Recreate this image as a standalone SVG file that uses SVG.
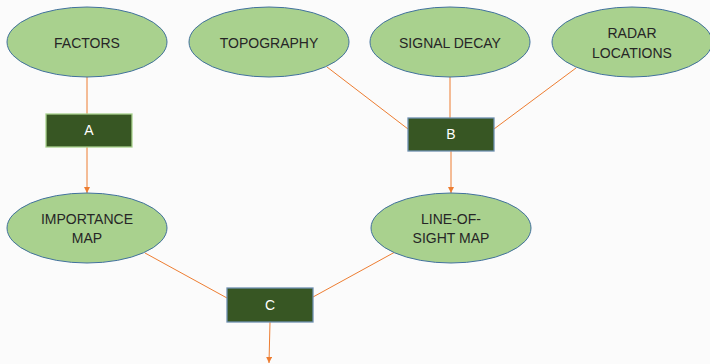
<svg xmlns="http://www.w3.org/2000/svg" width="710" height="364" viewBox="0 0 710 364">
<defs>
<style>
.ell{fill:#a9d18e;stroke:#41719c;stroke-width:1}
.box{fill:#375623;stroke:#6d8fb0;stroke-width:1.3}
.lbl{font-family:"Liberation Sans",Arial,sans-serif;font-size:14px;fill:#262626;text-anchor:middle}
.blbl{font-family:"Liberation Sans",Arial,sans-serif;font-size:14px;fill:#ffffff;text-anchor:middle}
.con{stroke:#ed7d31;stroke-width:1;fill:none}
</style>
<marker id="arr" viewBox="0 0 10 10" refX="10" refY="5" markerWidth="6" markerHeight="6" markerUnits="userSpaceOnUse" orient="auto">
<path d="M0,0 L10,5 L0,10 Z" fill="#ed7d31"/>
</marker>
</defs>
<rect width="710" height="364" fill="#fbfbfb"/>
<g id="connectors">
<line class="con" x1="87" y1="77" x2="87" y2="114"/>
<line class="con" x1="87" y1="147" x2="87" y2="193" marker-end="url(#arr)"/>
<line class="con" x1="327" y1="67" x2="408" y2="129"/>
<line class="con" x1="450" y1="77" x2="450" y2="118"/>
<line class="con" x1="576" y1="68" x2="494" y2="129"/>
<line class="con" x1="451" y1="151" x2="451" y2="193" marker-end="url(#arr)"/>
<line class="con" x1="145" y1="253" x2="227" y2="298"/>
<line class="con" x1="395" y1="252" x2="313" y2="297"/>
<line class="con" x1="270" y1="322" x2="269" y2="363" marker-end="url(#arr)"/>
</g>
<g id="factors"><ellipse class="ell" cx="87" cy="42" rx="80" ry="35"/><text class="lbl" x="87" y="48">FACTORS</text></g>
<g id="topography"><ellipse class="ell" cx="269" cy="42" rx="80" ry="35"/><text class="lbl" x="269" y="48">TOPOGRAPHY</text></g>
<g id="signal-decay"><ellipse class="ell" cx="450" cy="42" rx="80" ry="35"/><text class="lbl" x="450" y="48">SIGNAL DECAY</text></g>
<g id="radar-locations"><ellipse class="ell" cx="632" cy="42" rx="80" ry="35"/><text class="lbl" x="632" y="38">RADAR</text><text class="lbl" x="632" y="58">LOCATIONS</text></g>
<g id="box-a"><rect class="box" x="46" y="114" width="86" height="33" style="stroke:#a9d18e"/><text class="blbl" x="89" y="135">A</text></g>
<g id="box-b"><rect class="box" x="408" y="118" width="86" height="33"/><text class="blbl" x="451" y="139">B</text></g>
<g id="importance-map"><ellipse class="ell" cx="87" cy="228" rx="80" ry="35"/><text class="lbl" x="87" y="224">IMPORTANCE</text><text class="lbl" x="87" y="243">MAP</text></g>
<g id="line-of-sight-map"><ellipse class="ell" cx="451" cy="228" rx="80" ry="35"/><text class="lbl" x="451" y="224">LINE-OF-</text><text class="lbl" x="451" y="243">SIGHT MAP</text></g>
<g id="box-c"><rect class="box" x="227" y="288" width="86" height="34"/><text class="blbl" x="270" y="310">C</text></g>
</svg>
